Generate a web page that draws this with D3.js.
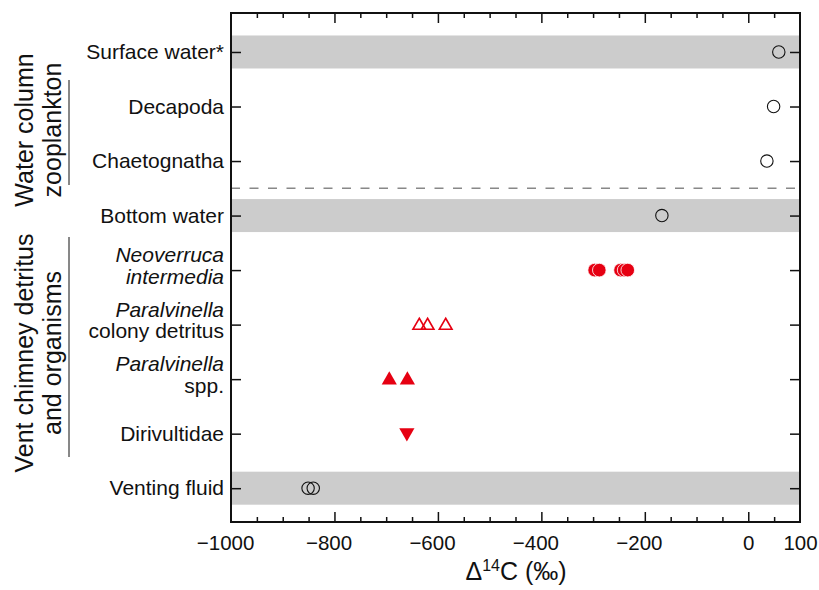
<!DOCTYPE html>
<html>
<head>
<meta charset="utf-8">
<script src="https://cdn.jsdelivr.net/npm/d3@7"></script>
<style>
  body { margin: 0; background: #fff; }
  text { font-family: "Liberation Sans", Arial, sans-serif; fill: #111; }
</style>
</head>
<body>
<div id="chart"></div>
<script>
// categories, top to bottom (italic parts flagged)
var labelLines = [
    [[["Surface water*", false]]],
    [[["Decapoda", false]]],
    [[["Chaetognatha", false]]],
    [[["Bottom water", false]]],
    [[["Neoverruca", true]], [["intermedia", true]]],
    [[["Paralvinella", true]], [["colony detritus", false]]],
    [[["Paralvinella", true]], [["spp.", false]]],
    [[["Dirivultidae", false]]],
    [[["Venting fluid", false]]]
];
var shadedRows = [0, 3, 8];

// delta 14C values (per mil)
var surfaceWater    = [59];
var decapoda        = [49];
var chaetognatha    = [36];
var bottomWater     = [-167];
var neoverruca      = [-297, -288, -247, -240, -233];
var colonyDetritus  = [-636, -620, -585];
var paralvinellaSpp = [-694, -659];
var dirivultidae    = [-660];
var ventingFluid    = [-851, -841];

var xLabelTicks = [-1000, -800, -600, -400, -200, 0, 100];
var xMajorTicks = [-800, -600, -400, -200, 0];
var xMinorTicks = d3.range(-950, 100, 50).filter(function(v){ return v % 200 !== 0; });

var red = "#e60012";

var width = 819, height = 590;
var margin = {top: 13, right: 19, bottom: 68, left: 231};

var svg = d3.select("#chart").append("svg")
    .attr("width", width)
    .attr("height", height);

var x = d3.scaleLinear()
    .domain([-1000, 100])
    .range([margin.left, width - margin.right]);

//row index -> y
var y = d3.scaleLinear()
    .domain([-0.715, 8.62])
    .range([margin.top, height - margin.bottom]);

var fmt = function(d) { return d3.format("d")(d); };

//grey bands
svg.append("g").selectAll("rect")
    .data(shadedRows).enter()
    .append("rect")
    .attr("x", x(-1000))
    .attr("width", x(100) - x(-1000))
    .attr("y", function(d) { return y(d) - 16.5; })
    .attr("height", 33)
    .attr("fill", "#cccccc");

//dashed separator between zooplankton and vent groups
svg.append("line")
    .attr("x1", x(-1000)).attr("x2", x(100))
    .attr("y1", y(2.5)).attr("y2", y(2.5))
    .attr("stroke", "#888")
    .attr("stroke-width", 1.5)
    .attr("stroke-dasharray", "9,9.5");

//axes: ticks pointing inward
var yBottom = y.range()[1], yTop = y.range()[0];

function xTicks(axisFn, yPos, vals, len) {
    svg.append("g")
        .attr("transform", "translate(0," + yPos + ")")
        .call(axisFn(x).tickValues(vals).tickSize(len).tickFormat(""))
        .call(function(g) { g.select(".domain").remove(); })
        .selectAll("line").attr("stroke", "#111").attr("stroke-width", 1.5);
}
xTicks(d3.axisBottom, yBottom, xMajorTicks, -10);
xTicks(d3.axisBottom, yBottom, xMinorTicks, -5);
xTicks(d3.axisTop, yTop, xMajorTicks, -10);
xTicks(d3.axisTop, yTop, xMinorTicks, -5);

//tick labels (digits centred on the tick, minus sign hangs left)
svg.append("g")
    .attr("transform", "translate(0," + yBottom + ")")
    .call(d3.axisBottom(x).tickValues(xLabelTicks).tickSize(0).tickPadding(13).tickFormat(fmt))
    .call(function(g) { g.select(".domain").remove(); })
    .selectAll("text")
    .attr("dx", function(d) { return d < 0 ? "-0.29em" : 0; })
    .style("font-size", "20.5px")
    .style("font-family", "'Liberation Sans', Arial, sans-serif")
    .attr("fill", "#111");

var rows = d3.range(labelLines.length);
svg.append("g")
    .attr("transform", "translate(" + x(-1000) + ",0)")
    .call(d3.axisRight(y).tickValues(rows).tickSize(10).tickFormat(""))
    .call(function(g) { g.select(".domain").remove(); })
    .selectAll("line").attr("stroke", "#111").attr("stroke-width", 1.5);
svg.append("g")
    .attr("transform", "translate(" + x(100) + ",0)")
    .call(d3.axisLeft(y).tickValues(rows).tickSize(10).tickFormat(""))
    .call(function(g) { g.select(".domain").remove(); })
    .selectAll("line").attr("stroke", "#111").attr("stroke-width", 1.5);

//frame
svg.append("rect")
    .attr("x", x(-1000)).attr("y", yTop)
    .attr("width", x(100) - x(-1000))
    .attr("height", yBottom - yTop)
    .attr("fill", "none")
    .attr("stroke", "#111")
    .attr("stroke-width", 2);

//category labels
var labels = svg.append("g").selectAll("text")
    .data(labelLines).enter()
    .append("text")
    .attr("text-anchor", "end")
    .style("font-size", "21px");

labels.each(function(lines, i) {
    var t = d3.select(this);
    var cy = y(i);
    lines.forEach(function(parts, j) {
        var base = lines.length === 1 ? cy + 7 : cy - 8 + j * 21.5;
        parts.forEach(function(p, k) {
            var ts = t.append("tspan").text(p[0]).style("font-style", p[1] ? "italic" : "normal");
            if (k === 0) ts.attr("x", x(-1000) - 7).attr("y", base);
        });
    });
});

//group labels with rules
var groups = [
    {lines: ["Water column", "zooplankton"], cy: 130, y1: 80, y2: 185},
    {lines: ["Vent chimney detritus", "and organisms"], cy: 353, y1: 237, y2: 457}
];
groups.forEach(function(g) {
    g.lines.forEach(function(l, j) {
        svg.append("text")
            .attr("transform", "translate(" + (33 + j * 28) + "," + g.cy + ") rotate(-90)")
            .attr("text-anchor", "middle")
            .style("font-size", "25px")
            .text(l);
    });
    svg.append("line")
        .attr("x1", 69).attr("x2", 69)
        .attr("y1", g.y1).attr("y2", g.y2)
        .attr("stroke", "#111").attr("stroke-width", 1);
});

//x axis title
var title = svg.append("text")
    .attr("x", 516).attr("y", 580)
    .attr("text-anchor", "middle")
    .style("font-size", "25px");
title.append("tspan").text("\u0394");
title.append("tspan").text("14").attr("dy", -9).style("font-size", "16px");
title.append("tspan").text("C (\u2030)").attr("dy", 9);

//points
var openCircle = function(row, vals) {
    svg.append("g").selectAll("circle")
        .data(vals).enter()
        .append("circle")
        .attr("cx", function(d) { return x(d); })
        .attr("cy", y(row))
        .attr("r", 6.2)
        .attr("fill", "none")
        .attr("stroke", "#111")
        .attr("stroke-width", 1.1);
};
openCircle(0, surfaceWater);
openCircle(1, decapoda);
openCircle(2, chaetognatha);
openCircle(3, bottomWater);
openCircle(8, ventingFluid);

svg.append("g").selectAll("circle")
    .data(neoverruca).enter()
    .append("circle")
    .attr("cx", function(d) { return x(d); })
    .attr("cy", y(4))
    .attr("r", 6.8)
    .attr("fill", red)
    .attr("stroke", "#fff")
    .attr("stroke-width", 0.8);

var triUp = d3.symbol().type(d3.symbolTriangle);
function triangles(row, vals, size, filled, down) {
    svg.append("g").selectAll("path")
        .data(vals).enter()
        .append("path")
        .attr("d", triUp.size(size)())
        .attr("transform", function(d) {
            return "translate(" + x(d) + "," + (y(row) + (down ? -1 : 1)) + ")" + (down ? " rotate(180)" : "");
        })
        .attr("fill", filled ? red : "none")
        .attr("stroke", red)
        .attr("stroke-width", filled ? 0 : 1.6);
}
triangles(5, colonyDetritus, 70, false, false);
triangles(6, paralvinellaSpp, 100, true, false);
triangles(7, dirivultidae, 100, true, true);
</script>
</body>
</html>
